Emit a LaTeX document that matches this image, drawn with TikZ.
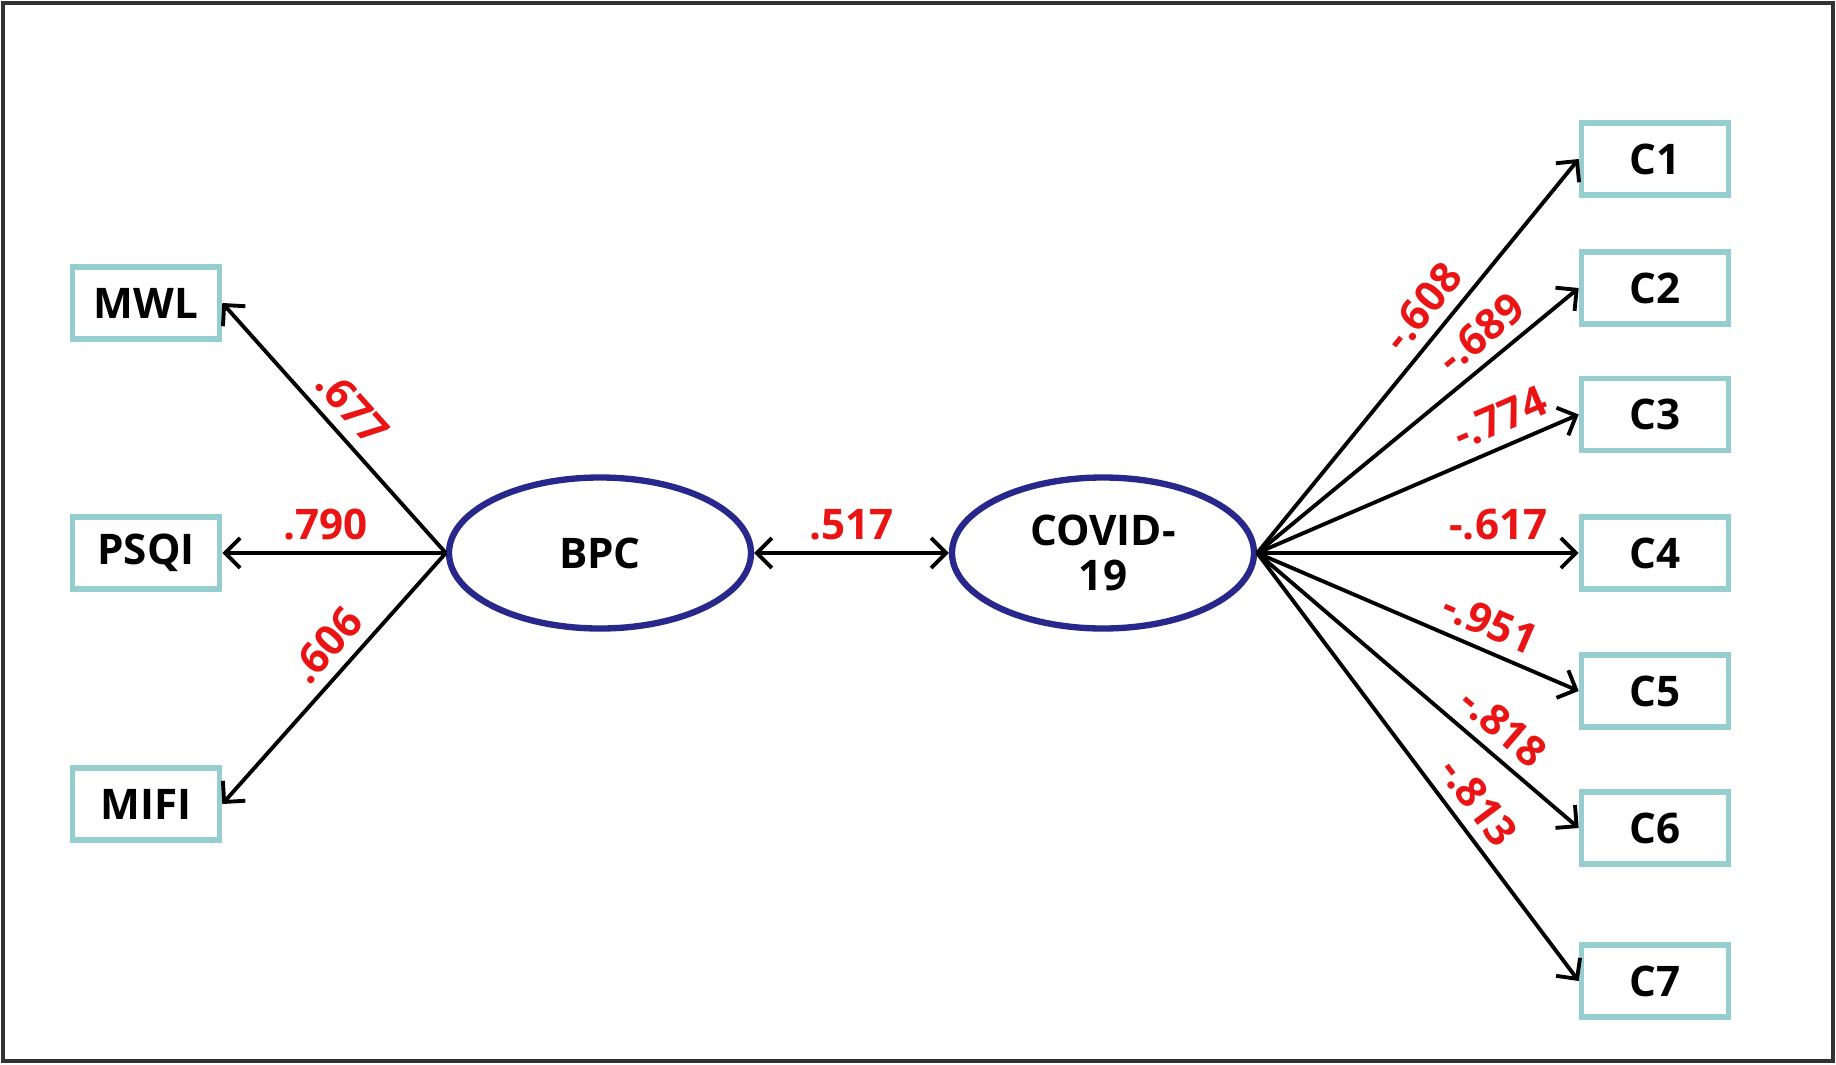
\documentclass[tikz,border=0pt]{standalone}
\usepackage{fontspec}
\setmainfont{Open Sans}
\usepackage{xcolor}
\usepackage{tikz}
\usetikzlibrary{arrows, arrows.meta}
\usetikzlibrary{positioning}
\usetikzlibrary{shapes.geometric}
\definecolor{boxTeal}{RGB}{150,206,208}
\definecolor{ovalBlue}{RGB}{40,40,140}
\definecolor{loadRed}{RGB}{235,20,20}
\definecolor{frameGray}{RGB}{50,50,50}

\begin{document}
\begin{tikzpicture}[>={Straight Barb[length=1.5mm,width=3mm]},
		obsbox/.style={draw=boxTeal, line width=1.6pt, rectangle, minimum width=1.47cm, minimum height=0.72cm, inner sep=0pt, font=\fontsize{12}{13}\selectfont\bfseries},
		latent/.style={draw=ovalBlue, line width=1.8pt, ellipse, minimum width=3.02cm, minimum height=1.51cm, inner sep=0pt, align=center, font=\fontsize{12}{13}\selectfont\bfseries},
		loading/.style={->, line width=1.1pt},
		coef/.style={text=loadRed, sloped, above, inner sep=3pt, font=\fontsize{12}{13}\selectfont\bfseries}]
			\useasboundingbox (0,0) rectangle (18.36,10.64);
			\draw[frameGray, line width=1pt] (0.03,0.03) rectangle (18.33,10.61);
			% latent variables
			\node[latent] (bpc) at (6.00,5.11) {BPC};
			\node[latent] (covid) at (11.03,5.11) {COVID-\\19};
			% indicators
			\foreach \name/\y in {MWL/7.61, PSQI/5.11, MIFI/2.60}
			{
				\node[obsbox] (\name) at (1.46,\y) {\name};
			}
			\foreach \y[count = \i] in {9.05, 7.76, 6.495, 5.11, 3.73, 2.36, 0.83}
			{
				\node[obsbox] (C\i) at (16.55,\y) {C\i};
			}
			% loadings
			\foreach \name/\p/\val in {MWL/0.51/.677, PSQI/0.54/.790, MIFI/0.44/.606}
			{
				\draw[loading] (bpc.west) -- node[coef, pos=\p] {\val} (\name.east);
			}
			\foreach \p/\val[count = \i] in {0.58/-.608, 0.75/-.689, 0.79/-.774, 0.75/-.617, 0.69/-.951, 0.71/-.818, 0.62/-.813}
			{
				\draw[loading] (covid.east) -- node[coef, pos=\p] {\val} (C\i.west);
			}
			\draw[<->, line width=1.1pt] (bpc.east) -- node[coef] {.517} (covid.west);
		\end{tikzpicture}
\end{document}
